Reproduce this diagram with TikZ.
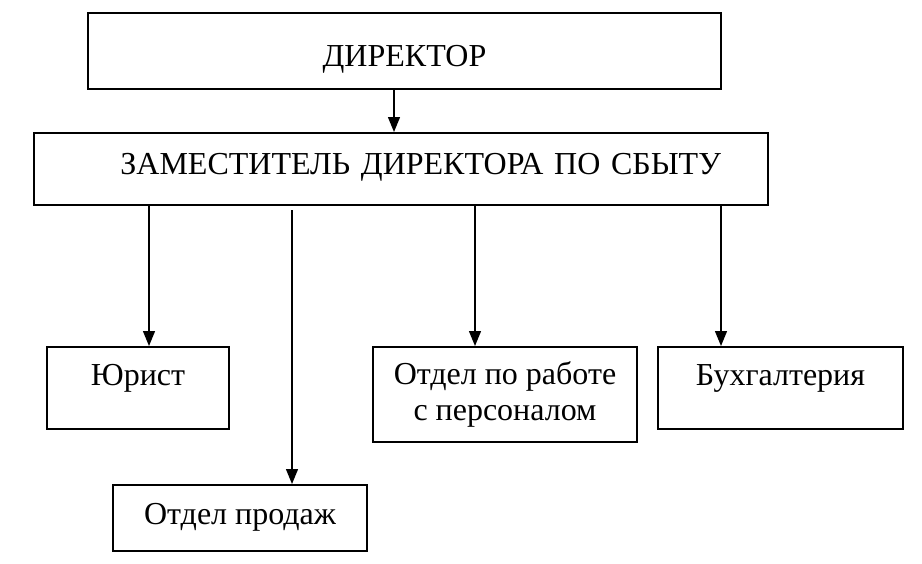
\documentclass[tikz,border=0pt]{standalone}
\usepackage{fontspec}
\setmainfont{Liberation Serif}
\usepackage{tikz}
\usetikzlibrary{arrows.meta,positioning,calc}
\tikzstyle{unit} = [rectangle, draw=black, line width=2pt, align=center, inner sep=0pt, font=\fontsize{32}{36}\selectfont]
\tikzstyle{arrow} = [line width=1.3pt, -{Triangle[length=15pt,width=12pt]}]

\begin{document}
\begin{tikzpicture}[x=1pt, y=-1pt]
\useasboundingbox (0,0) rectangle (922,563);
% Top of the chart
\node[unit, anchor=north, minimum width=633pt, text height=53pt, text depth=23pt] (dir) at (404.5,12) {ДИРЕКТОР};
\node[unit, anchor=north, minimum width=734pt, text height=41pt, text depth=31pt, text width=640pt, align=right, inner xsep=47pt] (zam) at (401,132) {ЗАМЕСТИТЕЛЬ ДИРЕКТОРА ПО СБЫТУ};

% Departments
\node[unit, anchor=north, minimum width=182pt, text height=38pt, text depth=44pt] (jur) at (138,346) {Юрист};
\node[unit, anchor=north, minimum width=264pt, minimum height=95pt] (pers) at (505,346) {Отдел по работе\\с персоналом};
\node[unit, anchor=north, minimum width=245pt, text height=38pt, text depth=44pt] (buh) at (780.5,346) {Бухгалтерия};
\node[unit, anchor=north, minimum width=254pt, text height=39pt, text depth=27pt] (prod) at (240,484) {Отдел продаж};

% Arrows
\draw[arrow] ([xshift=-10.5pt]dir.south) -- ([xshift=-10.5pt]dir.south |- zam.north);
\draw[arrow] ([xshift=11pt]jur.north |- zam.south) -- ([xshift=11pt]jur.north);
\draw[arrow] ([xshift=52pt,yshift=-4pt]prod.north |- zam.south) -- ([xshift=52pt]prod.north);
\draw[arrow] ([xshift=-30pt]pers.north |- zam.south) -- ([xshift=-30pt]pers.north);
\draw[arrow] ([xshift=-59.5pt]buh.north |- zam.south) -- ([xshift=-59.5pt]buh.north);
\end{tikzpicture}
\end{document}
